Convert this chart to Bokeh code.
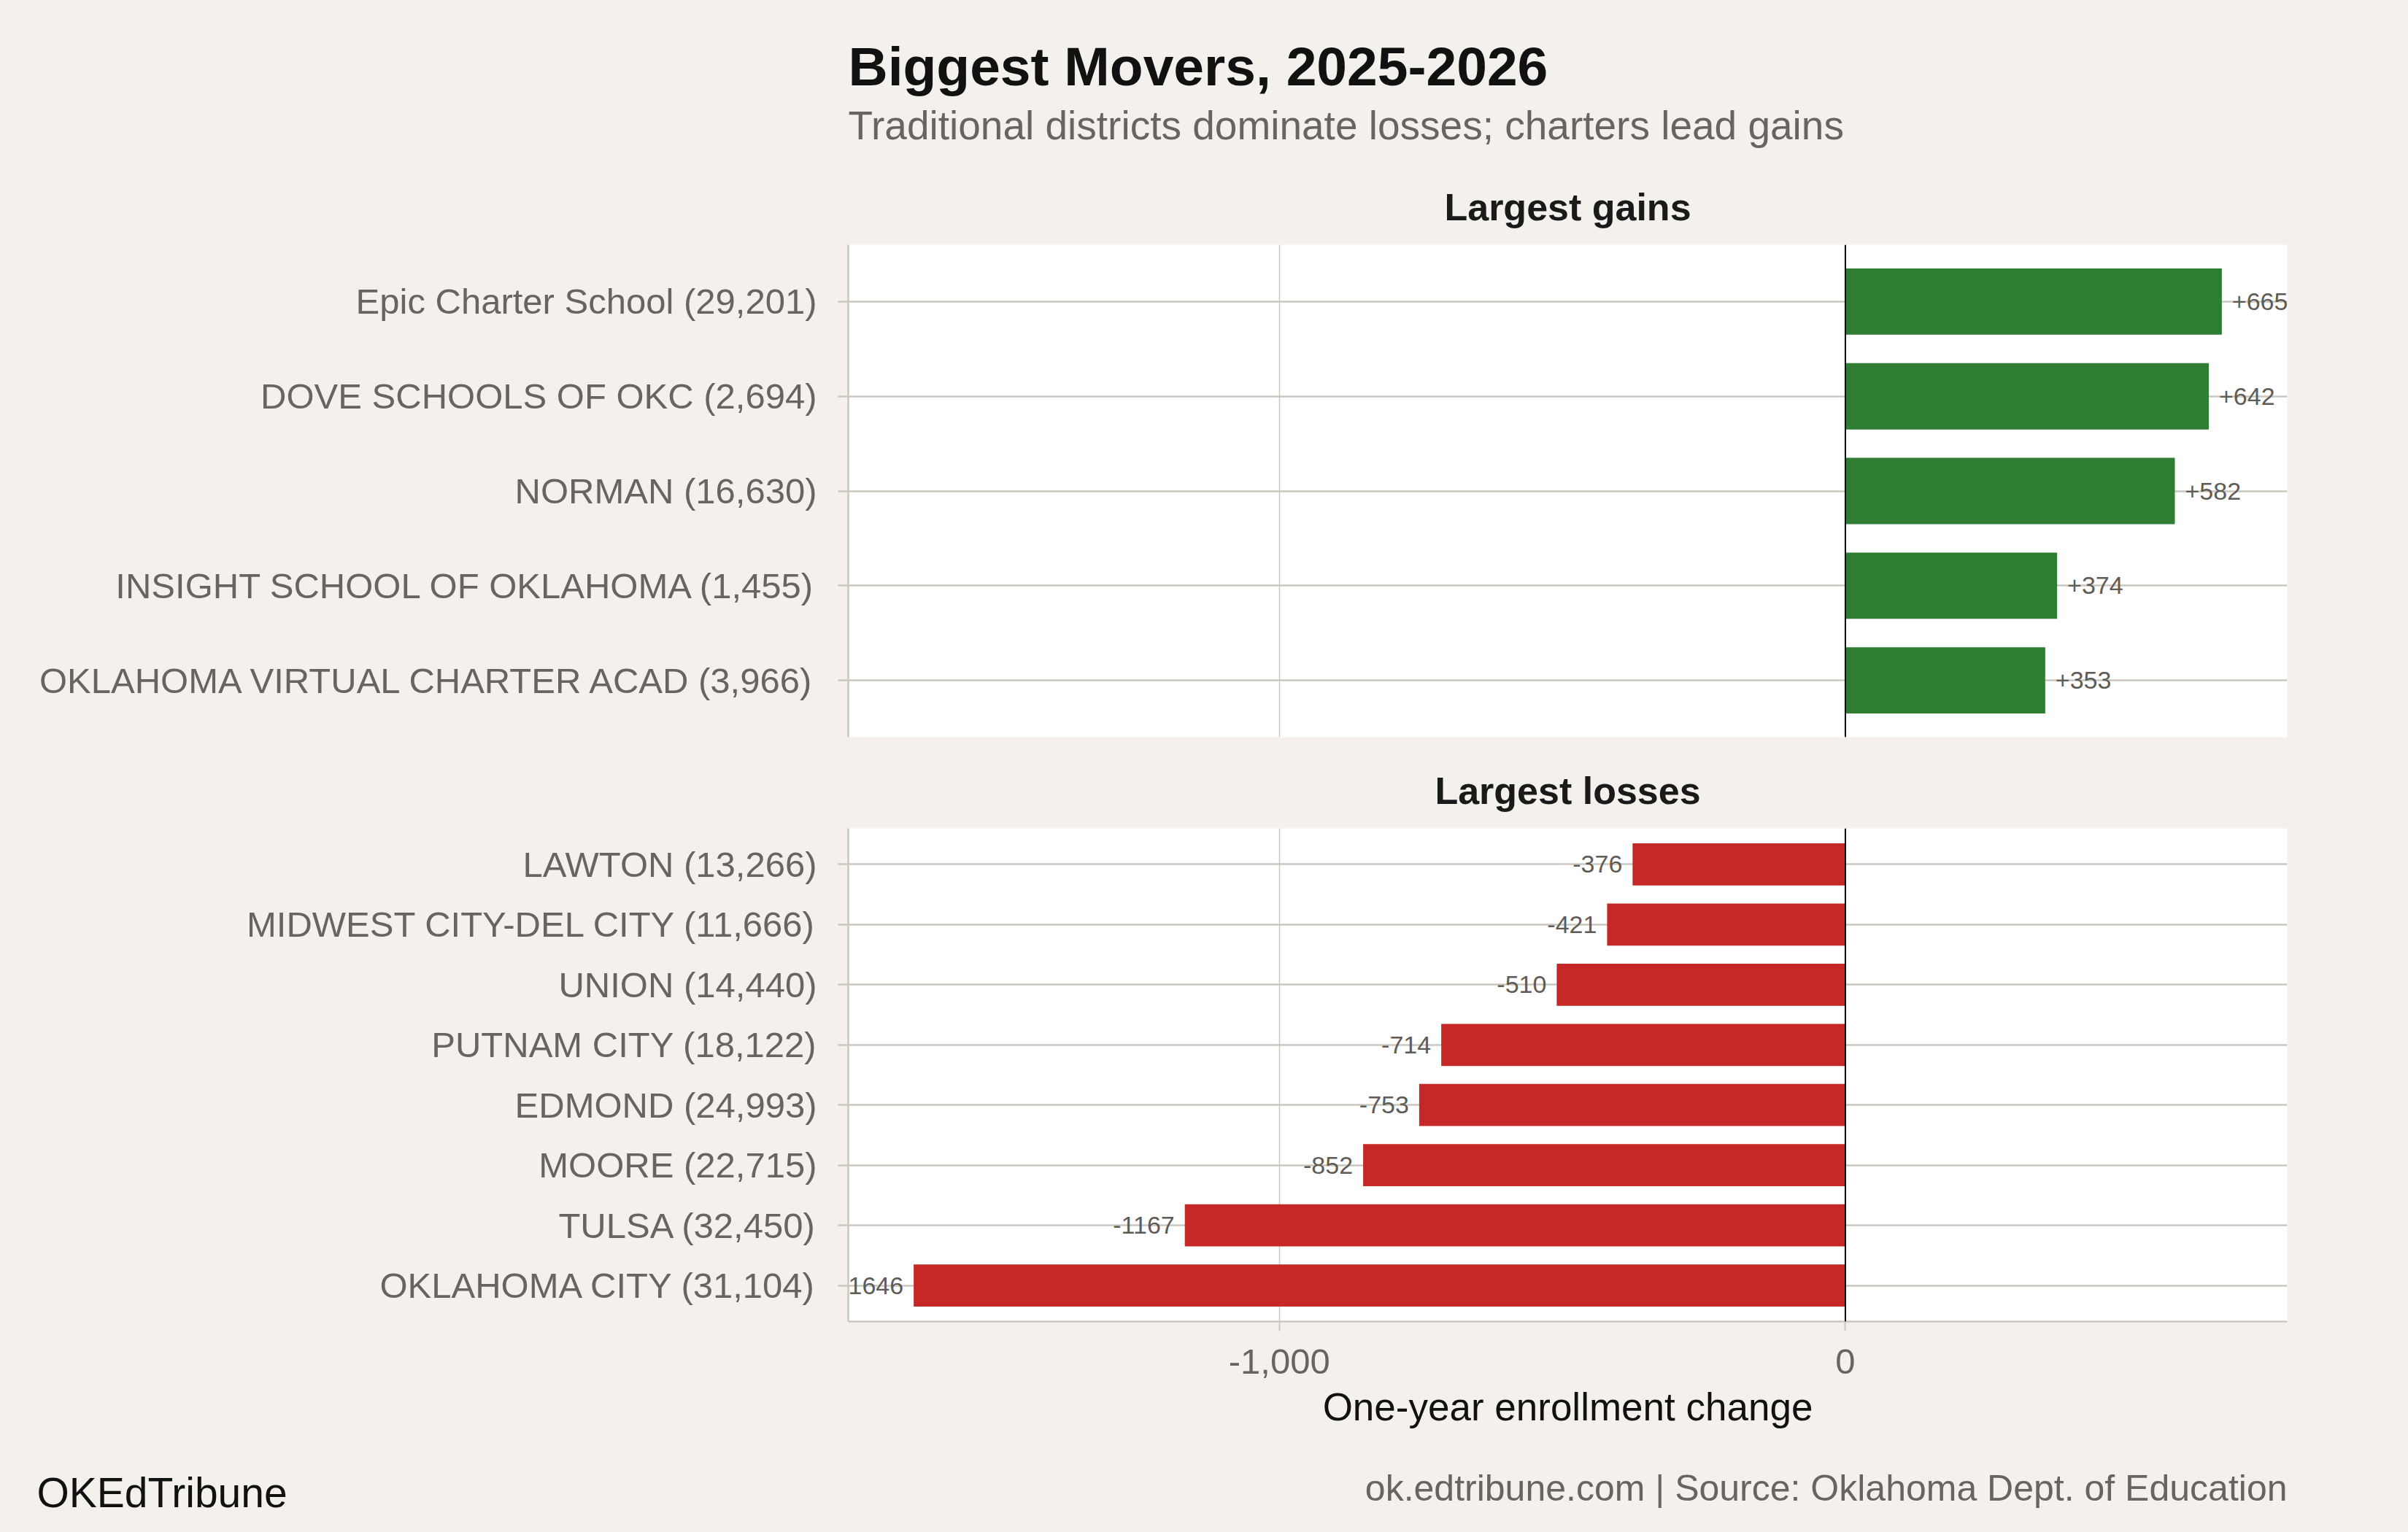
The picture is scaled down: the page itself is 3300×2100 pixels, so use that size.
from bokeh.plotting import figure
from bokeh.models import (FactorRange, Range1d, FixedTicker, NumeralTickFormatter,
                          Span, LabelSet, ColumnDataSource, Grid)
from bokeh.layouts import column
from bokeh.embed import file_html
from bokeh.resources import INLINE
from bokeh.core.properties import value

# ---------------- data ----------------
gain_districts = ["Epic Charter School", "DOVE SCHOOLS OF OKC", "NORMAN",
                  "INSIGHT SCHOOL OF OKLAHOMA", "OKLAHOMA VIRTUAL CHARTER ACAD"]
gain_enrollment = [29201, 2694, 16630, 1455, 3966]
gain_change = [665, 642, 582, 374, 353]

loss_districts = ["LAWTON", "MIDWEST CITY-DEL CITY", "UNION", "PUTNAM CITY",
                  "EDMOND", "MOORE", "TULSA", "OKLAHOMA CITY"]
loss_enrollment = [13266, 11666, 14440, 18122, 24993, 22715, 32450, 31104]
loss_change = [-376, -421, -510, -714, -753, -852, -1167, -1646]

x_ticks = [-1000, 0]

title_text = "Biggest Movers, 2025-2026"
subtitle_text = "Traditional districts dominate losses; charters lead gains"
gains_strip = "Largest gains"
losses_strip = "Largest losses"
x_label = "One-year enrollment change"
brand_text = "OKEdTribune"
caption_text = "ok.edtribune.com | Source: Oklahoma Dept. of Education"

# ---------------- style / layout ----------------
FONT_NAME = "Liberation Sans"
FONT = value(FONT_NAME)
BG = "#f4f1ec"
GRID = "#cbc7bf"
GRAY_TXT = "#68645f"
VAL_TXT = "#5f5b56"
GREEN = "#2e7d32"
RED = "#c62828"

PAGE_W = 3300
FRAME_LEFT = 1162
FRAME_W = 1972
FRAME_RIGHT = FRAME_LEFT + FRAME_W
FRAME_MID = FRAME_LEFT + FRAME_W / 2
TXT_SHIFT = 22          # text glyph baseline correction (px)

all_vals = gain_change + loss_change
lo, hi = min(all_vals), max(all_vals)
pad = 0.05 * (hi - lo)
X0, X1 = lo - pad, hi + pad


def text_fig(height):
    p = figure(x_range=Range1d(0, PAGE_W), y_range=Range1d(height, 0),
               frame_width=PAGE_W, frame_height=height,
               min_border_left=0, min_border_right=0, min_border_top=0, min_border_bottom=0,
               x_axis_location=None, y_axis_location=None,
               output_backend="svg", toolbar_location=None)
    try:
        p.frame_align = False
    except Exception:
        pass
    p.grid.visible = False
    p.outline_line_color = None
    p.background_fill_color = BG
    p.border_fill_color = BG
    return p


def put_text(p, x, y, text, size, color, bold=False, align="left"):
    p.text(x=[x], y=[y - TXT_SHIFT], text=[text], text_font=FONT, text_font_size=size,
           text_color=color, text_font_style="bold" if bold else "normal",
           text_align=align, text_baseline="alphabetic")


def make_labelset(src, positive):
    kw = dict(x="change", y="name", text="lbl", source=src,
              text_align="left" if positive else "right",
              x_offset=14 if positive else -14,
              text_baseline="middle", text_font_size="34px", text_color=VAL_TXT,
              level="overlay")
    try:
        ls = LabelSet(text_font=value(FONT_NAME), **kw)
    except ValueError:
        ls = LabelSet(text_font=FONT_NAME, **kw)
    try:
        ls.clip = False
    except Exception:
        pass
    return ls


def make_panel(names, enr, change, color, frame_h, top, bottom, positive, show_x):
    labels = [f"{n} ({e:,})" for n, e in zip(names, enr)]
    vals_txt = [f"+{v}" if v > 0 else f"{v}" for v in change]
    factors = list(reversed(labels))
    src = ColumnDataSource(dict(name=labels, change=change, lbl=vals_txt))
    p = figure(y_range=FactorRange(factors=factors, range_padding=0.1,
                                   range_padding_units="absolute"),
               x_range=Range1d(X0, X1),
               frame_width=FRAME_W, frame_height=frame_h,
               min_border_left=FRAME_LEFT, min_border_right=PAGE_W - FRAME_RIGHT,
               min_border_top=top, min_border_bottom=bottom,
               x_axis_location="below" if show_x else None,
               output_backend="svg", toolbar_location=None)
    p.background_fill_color = "white"
    p.border_fill_color = BG
    p.outline_line_color = None

    # grids
    p.xgrid.visible = False
    p.ygrid.grid_line_color = GRID
    p.ygrid.grid_line_width = 2.3
    p.add_layout(Grid(dimension=0, ticker=FixedTicker(ticks=x_ticks),
                      grid_line_color=GRID, grid_line_width=1.5))

    p.hbar(y="name", left=0, right="change", height=0.7, source=src,
           fill_color=color, line_color=None)
    p.add_layout(Span(location=0, dimension="height", line_color="#111111", line_width=2))
    p.add_layout(make_labelset(src, positive))

    # y axis
    ya = p.yaxis[0]
    ya.axis_line_color = GRID
    ya.axis_line_width = 2.5
    ya.major_tick_line_color = GRID
    ya.major_tick_line_width = 2.3
    ya.major_tick_out = 14
    ya.major_tick_in = 0
    ya.minor_tick_line_color = None
    ya.major_label_standoff = 29
    ya.major_label_text_font = FONT_NAME
    ya.major_label_text_font_size = "49px"
    ya.major_label_text_color = GRAY_TXT

    if show_x:
        xa = p.xaxis[0]
        xa.ticker = FixedTicker(ticks=x_ticks)
        xa.formatter = NumeralTickFormatter(format="0,0")
        xa.axis_line_color = GRID
        xa.axis_line_width = 2.5
        xa.major_tick_line_color = GRID
        xa.major_tick_line_width = 2
        xa.major_tick_out = 13
        xa.major_tick_in = 0
        xa.minor_tick_line_color = None
        xa.major_label_standoff = 25
        xa.major_label_text_font = FONT_NAME
        xa.major_label_text_font_size = "49px"
        xa.major_label_text_color = GRAY_TXT
        xa.axis_label = x_label
        xa.axis_label_text_font = FONT_NAME
        xa.axis_label_text_font_size = "53px"
        xa.axis_label_text_font_style = "normal"
        xa.axis_label_text_color = "#111111"
        xa.axis_label_standoff = 13
    return p


# page rows: header 0-320, top panel 320-1040 (frame 335-1010),
# strip 1040-1130, bottom panel 1130-1996 (frame 1135-1811), footer 1996-2100
header = text_fig(320)
put_text(header, FRAME_LEFT, 112, title_text, "75px", "#111111", bold=True)
put_text(header, FRAME_LEFT, 193, subtitle_text, "55px", GRAY_TXT)
put_text(header, FRAME_MID, 305, gains_strip, "52px", "#1a1a1a", bold=True, align="center")

top = make_panel(gain_districts, gain_enrollment, gain_change, GREEN,
                 675, 15, 30, True, False)

strip = text_fig(90)
put_text(strip, FRAME_MID, 65, losses_strip, "52px", "#1a1a1a", bold=True, align="center")

bot = make_panel(loss_districts, loss_enrollment, loss_change, RED,
                 676, 5, 185, False, True)

footer = text_fig(104)
put_text(footer, 50, 71, brand_text, "57px", "#111111")
put_text(footer, FRAME_RIGHT, 65, caption_text, "50px", GRAY_TXT, align="right")

layout = column(header, top, strip, bot, footer, spacing=0)

html = file_html(layout, INLINE, title="Biggest Movers")
css = (f"<style>html,body{{margin:0;padding:0;background:{BG};overflow:hidden;}}</style>")
html = html.replace("<head>", "<head>" + css, 1)
open("out.html", "w").write(html)
